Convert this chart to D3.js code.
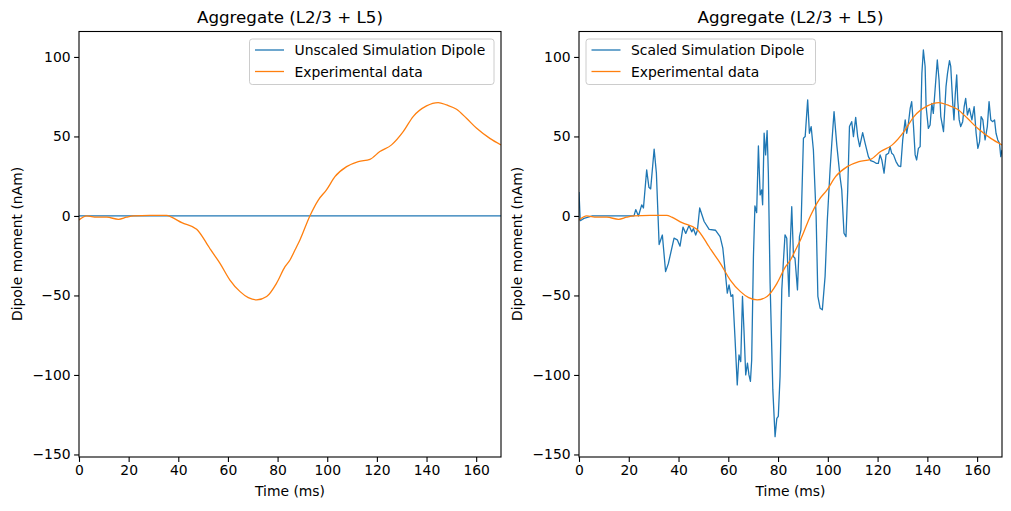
<!DOCTYPE html>
<html>
<head>
<meta charset="utf-8">
<script src="https://d3js.org/d3.v7.min.js"></script>
<style>
  body { margin: 0; background: #fff; }
  text { font-family: "DejaVu Sans", sans-serif; fill: #000; }
</style>
</head>
<body>
<svg id="drawing_region"></svg>
<script>
// experimental data (same in both panels)
const exp_times  = [0, 3.1, 7.1, 11.2, 15.9, 19.2, 21.9, 28.6, 35.3, 37.3, 41.4, 47.4, 51.4, 53.1, 56.8,
                    60.8, 64.9, 68.2, 71.6, 75.6, 79.6, 83.0, 85.0, 87.0, 89.0, 93.0, 96.4, 99.7, 103.1,
                    107.8, 112.5, 117.2, 121.2, 125.9, 130.6, 134.6, 140.0, 144.7, 148.1, 152.1, 156.1,
                    160.2, 165.5, 170.0];
const exp_values = [-2.5, 0, -0.8, -0.8, -2.1, -0.8, 0, 0.4, 0.4, -0.8, -4.2, -8.4, -17.2, -21.4, -29.8,
                    -40.3, -47.6, -51.4, -52.8, -50.7, -42.3, -31.9, -27.7, -21.4, -15.1, 0, 10, 16.4, 24.7,
                    31, 34.2, 35.6, 40.5, 44.7, 53, 62.5, 69.2, 71.3, 69.8, 67.1, 61.4,
                    55.1, 48.8, 44.7];

// unscaled simulation dipole (left panel, essentially flat)
const unscaled_times  = [0, 20, 40, 60, 80, 100, 120, 140, 160, 170];
const unscaled_values = [0, 0, 0, 0, 0, 0, 0, 0, 0, 0];

// scaled simulation dipole (right panel)
const scaled_times = [0, 0.5, 2, 5.4, 10, 15, 20, 22.1, 22.8, 23.9, 25.2, 25.9, 27.2, 28.1, 28.8, 30.2, 31.1,
  32.2, 33.5, 34.8, 35.9, 38.2, 39.5, 40.6, 41.8, 42.9, 44.2, 45.3, 46.0, 46.9, 47.6, 48.5, 50.3, 52.3,
  54.9, 56.7, 57.8, 58.7, 59.6, 60.3, 61.1, 61.8, 62.7, 63.6, 64.3, 65.0, 65.7, 66.3, 67.0, 67.7, 68.3,
  68.9, 69.4, 70.1, 70.7, 71.4, 72.1, 72.8, 73.4, 73.8, 74.4, 75.0, 75.6, 76.1, 76.8, 77.9, 78.8, 79.5,
  80.1, 80.8, 81.5, 82.1, 82.8, 83.5, 83.9, 84.4, 84.8, 85.5, 86.2, 86.8, 87.8, 88.6, 89.2, 90.2, 90.9,
  91.9, 92.6, 93.3, 94.2, 95.3, 96.0, 96.9, 97.8, 98.9, 99.8, 100.9, 101.6, 102.5, 103.6, 104.9, 105.6,
  106.5, 107.3, 108.0, 108.7, 109.6, 110.3, 111.2, 112.0, 112.8, 114.0, 115.0, 116.3, 117.2, 118.3, 119.4,
  120.3, 121.0, 121.7, 122.6, 123.4, 124.4, 125.0, 125.7, 126.4, 127.4, 128.4, 129.3, 130.1, 131.1, 131.7,
  132.4, 133.1, 133.7, 134.4, 135.1, 135.7, 136.4, 137.1, 137.8, 138.4, 139.1, 139.5, 140.4, 141.1, 141.8,
  142.4, 143.1, 144.0, 144.7, 145.4, 146.5, 147.5, 148.1, 148.9, 149.4, 150.2, 150.7, 151.2, 151.8, 152.2,
  152.8, 153.4, 154.2, 154.8, 155.4, 156.1, 156.9, 157.9, 158.8, 159.6, 160.3, 161.0, 161.6, 162.3, 163.2,
  164.1, 164.8, 165.5, 166.3, 167.0, 167.6, 168.3, 169.0, 169.5, 170.0];
const scaled_values = [15, -3, -1.5, 0, 0, 0, 0, 0, 4, 0, 7, 5, 29, 18, 17, 42, 27,
  -18, -12, -35, -30, -14, -15, -19, -7, -11, -6, -10, -8, -12, -9, 5, -3.5, -8.4,
  -9, -13, -20.3, -34, -48.6, -43.4, -50.6, -49.6, -76.9, -106.3, -87.4, -91.6, -50.6, -71.7, -100, -92.6, -100,
  -104, -90.6, -25.6, 6.3, 2.1, 44, 13.2, 16.4, 7, 52, 38.4, 53.7, 26.9, -42.3, -109.4, -138.8, -127.3,
  -126, -101, -46.5, -29.7, -11.9, -14, -31.8, -50.6, -21.4, 5.8, -25.6, -26.6, -46.5, -13, -8.8, 48.9, 49.9,
  73, 52, 56.2, 41.5, -0.4, -50.6, -58, -59, -38, -2.5, 29, 45.7, 65.6, 44.7, 24.7, 16.4,
  -10.9, -13, 16.4, 56.2, 59.3, 49.9, 62, 49.9, 43.6, 52.4, 45.7, 37.3, 34.8, 34.2, 33.1,
  33.1, 38.4, 35.2, 26.9, 38.4, 39.4, 43.6, 39.4, 38.4, 34.2, 31.5, 31, 47.8, 60.4, 52,
  58.3, 67.7, 71.9, 57.2, 38.4, 35.2, 42.5, 43.6, 89.7, 104.4, 94, 68.8, 55.1, 57.2, 70.8,
  64.5, 79.2, 98.1, 85.5, 62.5, 53.1, 81.3, 89.7, 97.7, 94, 70.8, 60.4, 76.1, 88.7, 73,
  60.4, 56.2, 59.3, 68.8, 74, 63.5, 67.7, 60.4, 68.8, 52, 42.5, 46.7, 62.5, 60.4, 47.8,
  56.2, 71.9, 60.4, 59.3, 60.4, 52, 47.8, 45.7, 37.3, 41.5];

const x_ticks = [0, 20, 40, 60, 80, 100, 120, 140, 160];
const y_ticks = [-150, -100, -50, 0, 50, 100];

const zip = (xs, ys) => xs.map((x, i) => ({ t: x, v: ys[i] }));

const svg = d3.select('#drawing_region')
    .attr('width', 1011)
    .attr('height', 511);

function drawPanel(cfg) {
    const xscale = d3.scaleLinear().domain([0, 170]).range([cfg.left, cfg.right]);
    const yscale = d3.scaleLinear().domain([-151.6, 116.0]).range([457, 31.5]);

    const g = svg.append('g');

    g.append('clipPath').attr('id', cfg.id)
      .append('rect')
        .attr('x', cfg.left).attr('y', 31.5)
        .attr('width', cfg.right - cfg.left).attr('height', 457 - 31.5);

    const line = d3.line().x(d => xscale(d.t)).y(d => yscale(d.v));
    const smooth = d3.line().x(d => xscale(d.t)).y(d => yscale(d.v)).curve(d3.curveMonotoneX);

    const plot = g.append('g').attr('clip-path', `url(#${cfg.id})`);
    plot.append('path')
        .datum(cfg.sim)
        .attr('fill', 'none')
        .attr('stroke', '#1f77b4')
        .attr('stroke-width', 1.3)
        .attr('stroke-linejoin', 'round')
        .attr('d', line);
    plot.append('path')
        .datum(zip(exp_times, exp_values))
        .attr('fill', 'none')
        .attr('stroke', '#ff7f0e')
        .attr('stroke-width', 1.3)
        .attr('d', smooth);

    // axes
    const xaxis = d3.axisBottom(xscale).tickValues(x_ticks).tickSize(4.9).tickPadding(3.5).tickSizeOuter(0);
    const yaxis = d3.axisLeft(yscale).tickValues(y_ticks).tickSize(4.9).tickPadding(3.5).tickSizeOuter(0);

    const xg = g.append('g').attr('transform', 'translate(0,457)').call(xaxis);
    const yg = g.append('g').attr('transform', `translate(${cfg.left},0)`).call(yaxis);
    [xg, yg].forEach(a => {
        a.select('.domain').remove();
        a.selectAll('.tick line').attr('stroke', '#000').attr('stroke-width', 1.1);
        a.selectAll('.tick text')
            .attr('font-family', '"DejaVu Sans", sans-serif')
            .attr('font-size', 13.9)
            .attr('fill', '#000');
    });

    // spines
    g.append('rect')
        .attr('x', cfg.left).attr('y', 31.5)
        .attr('width', cfg.right - cfg.left).attr('height', 457 - 31.5)
        .attr('fill', 'none').attr('stroke', '#000').attr('stroke-width', 1.1);

    // title and labels
    g.append('text')
        .attr('x', (cfg.left + cfg.right) / 2).attr('y', 22.5)
        .attr('text-anchor', 'middle').attr('font-size', 16.7)
        .text('Aggregate (L2/3 + L5)');
    g.append('text')
        .attr('x', (cfg.left + cfg.right) / 2).attr('y', 496)
        .attr('text-anchor', 'middle').attr('font-size', 13.9)
        .text('Time (ms)');
    g.append('text')
        .attr('transform', `translate(${cfg.left - 57},244) rotate(-90)`)
        .attr('text-anchor', 'middle').attr('font-size', 13.9)
        .text('Dipole moment (nAm)');

    // legend
    const lg = g.append('g').attr('transform', `translate(${cfg.legend_x},39)`);
    lg.append('rect')
        .attr('width', cfg.legend_w).attr('height', 45.5)
        .attr('rx', 2.8)
        .attr('fill', 'rgba(255,255,255,0.8)')
        .attr('stroke', '#cccccc').attr('stroke-width', 1);
    const items = [[cfg.sim_label, '#1f77b4'], ['Experimental data', '#ff7f0e']];
    items.forEach((it, i) => {
        const yy = 11 + i * 21.5;
        lg.append('line')
            .attr('x1', 5.5).attr('x2', 34.5).attr('y1', yy).attr('y2', yy)
            .attr('stroke', it[1]).attr('stroke-width', 1.3);
        lg.append('text')
            .attr('x', 45).attr('y', yy + 5)
            .attr('font-size', 13.9)
            .text(it[0]);
    });
}

drawPanel({
    id: 'clip_left', left: 79, right: 501,
    sim: zip(unscaled_times, unscaled_values),
    sim_label: 'Unscaled Simulation Dipole',
    legend_x: 249.5, legend_w: 244.5
});

drawPanel({
    id: 'clip_right', left: 579, right: 1002,
    sim: zip(scaled_times, scaled_values),
    sim_label: 'Scaled Simulation Dipole',
    legend_x: 586, legend_w: 229.5
});
</script>
</body>
</html>
